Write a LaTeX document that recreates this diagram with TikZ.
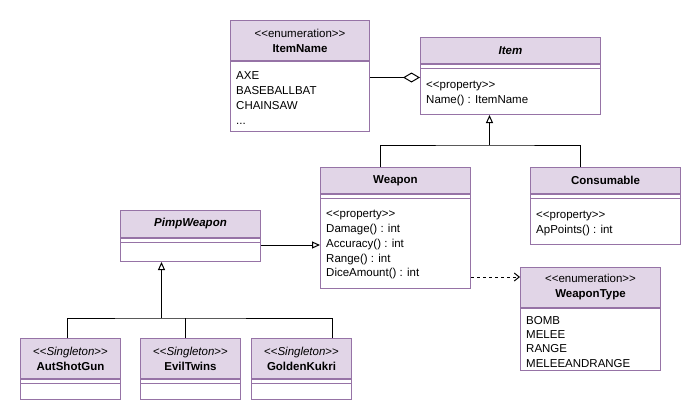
\documentclass[tikz,border=0pt]{standalone}
\usepackage{fontspec}
\setmainfont{Liberation Sans}
\usetikzlibrary{arrows.meta,calc}
\definecolor{umlfill}{HTML}{E1D5E7}
\definecolor{umlline}{HTML}{9673A6}
\newcommand{\umlfont}{\fontsize{11.5}{15}\selectfont}
\begin{document}
\begin{tikzpicture}[x=1pt, y=-1pt,
  hdr/.style={draw=umlline, fill=umlfill, line width=1pt, anchor=north west, inner sep=0pt, align=center, font=\umlfont},
  cbody/.style={draw=umlline, fill=white, line width=1pt, anchor=north, inner sep=0pt},
  sep/.style={draw=umlline, line width=1pt},
  mbr/.style={anchor=north west, inner sep=0pt, align=left, font=\umlfont},
  conn/.style={line width=1pt},
  gen/.style={conn, -{Triangle[open, length=8pt, width=7pt]}},
  aggr/.style={conn, -{Diamond[open, length=17pt, width=10pt]}},
  dep/.style={conn, dash pattern=on 3pt off 3pt, -{Straight Barb[length=5pt, width=8pt]}}]
  \useasboundingbox (0,0) rectangle (698,402);
  % ItemName
  \node[hdr, minimum width=139pt, minimum height=40pt] (itemname) at (230,20) {<{}<enumeration>{}>\\\textbf{ItemName}};
  \node[cbody, minimum width=139pt, minimum height=70pt] (itemname-b) at (itemname.south) {};
  \node[mbr] (itemname-t) at ($(itemname-b.north west)+(6,7.5)$) {\strut AXE\\BASEBALLBAT\\CHAINSAW\\...};
  % Item
  \node[hdr, minimum width=180pt, minimum height=26pt] (item) at (420,37) {\textbf{\textit{Item}}};
  \node[cbody, minimum width=180pt, minimum height=50pt] (item-b) at (item.south) {};
  \draw[sep] ($(item.south west)+(0,4)$) -- ($(item.south east)+(0,4)$);
  \node[mbr] (item-t) at ($(item-b.north west)+(6,13.5)$) {\strut<{}<property>{}>\\Name() : ItemName};
  % Weapon
  \node[hdr, minimum width=150pt, minimum height=26pt] (weapon) at (320,167) {\textbf{Weapon}};
  \node[cbody, minimum width=150pt, minimum height=94pt] (weapon-b) at (weapon.south) {};
  \draw[sep] ($(weapon.south west)+(0,4)$) -- ($(weapon.south east)+(0,4)$);
  \node[mbr, font=\fontsize{11.5}{14.7}\selectfont] (weapon-t) at ($(weapon-b.north west)+(6,13.5)$) {\strut<{}<property>{}>\\Damage() : int\\Accuracy() : int\\Range() : int\\DiceAmount() : int};
  % Consumable
  \node[hdr, minimum width=150pt, minimum height=26pt] (consumable) at (530,167) {\textbf{Consumable}};
  \node[cbody, minimum width=150pt, minimum height=50pt] (consumable-b) at (consumable.south) {};
  \draw[sep] ($(consumable.south west)+(0,4)$) -- ($(consumable.south east)+(0,4)$);
  \node[mbr] (consumable-t) at ($(consumable-b.north west)+(6,13.5)$) {\strut<{}<property>{}>\\ApPoints() : int};
  % WeaponType
  \node[hdr, minimum width=140pt, minimum height=40pt] (weapontype) at (520,267) {<{}<enumeration>{}>\\\textbf{WeaponType}};
  \node[cbody, minimum width=140pt, minimum height=62pt] (weapontype-b) at (weapontype.south) {};
  \node[mbr, font=\fontsize{11.5}{14.3}\selectfont] (weapontype-t) at ($(weapontype-b.north west)+(6,6)$) {\strut BOMB\\MELEE\\RANGE\\MELEEANDRANGE};
  % PimpWeapon
  \node[hdr, minimum width=140pt, minimum height=27pt] (pimp) at (120,210) {\textbf{\textit{PimpWeapon}}};
  \node[cbody, minimum width=140pt, minimum height=23pt] (pimp-b) at (pimp.south) {};
  \draw[sep] ($(pimp.south west)+(0,4)$) -- ($(pimp.south east)+(0,4)$);
  % singletons
  \node[hdr, minimum width=100pt, minimum height=40pt] (autshotgun) at (20,338) {<{}<\textit{Singleton}>{}>\\\textbf{AutShotGun}};
  \node[cbody, minimum width=100pt, minimum height=20pt] (autshotgun-b) at (autshotgun.south) {};
  \draw[sep] ($(autshotgun.south west)+(0,4)$) -- ($(autshotgun.south east)+(0,4)$);
  \node[hdr, minimum width=100pt, minimum height=40pt] (eviltwins) at (140,338) {<{}<\textit{Singleton}>{}>\\\textbf{EvilTwins}};
  \node[cbody, minimum width=100pt, minimum height=20pt] (eviltwins-b) at (eviltwins.south) {};
  \draw[sep] ($(eviltwins.south west)+(0,4)$) -- ($(eviltwins.south east)+(0,4)$);
  \node[hdr, minimum width=100pt, minimum height=40pt] (goldenkukri) at (251,338) {<{}<\textit{Singleton}>{}>\\\textbf{GoldenKukri}};
  \node[cbody, minimum width=100pt, minimum height=20pt] (goldenkukri-b) at (goldenkukri.south) {};
  \draw[sep] ($(goldenkukri.south west)+(0,4)$) -- ($(goldenkukri.south east)+(0,4)$);
  % connectors
  \coordinate (aggend) at ($(item-b.west)+(0,-12)$);
  \draw[aggr] (itemname-b.east |- aggend) -- (aggend);
  \coordinate (itemfork) at (489.5,145);
  \coordinate (wjoin) at ($(weapon.north west)+(60,0)$);
  \coordinate (cjoin) at ($(consumable.north west)+(50,0)$);
  \draw[conn] (wjoin) |- (itemfork) -| (cjoin);
  \draw[gen] (itemfork) -- (itemfork |- item-b.south);
  \coordinate (pimpout) at ($(pimp-b.east)+(0,-5)$);
  \draw[gen] (pimpout) -- (pimpout -| weapon-b.west);
  \coordinate (depend) at ($(weapontype.north west)+(0,10)$);
  \draw[dep] (depend -| weapon-b.east) -- (depend);
  \coordinate (pimpfork) at (161.5,318);
  \coordinate (ajoin) at ($(autshotgun.north west)+(47,0)$);
  \coordinate (ejoin) at ($(eviltwins.north west)+(45,0)$);
  \coordinate (gjoin) at ($(goldenkukri.north west)+(81,0)$);
  \draw[conn] (ajoin) |- (pimpfork) -| (gjoin);
  \draw[conn] (ejoin) -- (ejoin |- pimpfork);
  \draw[gen] (pimpfork) -- (pimpfork |- pimp-b.south);
\end{tikzpicture}
\end{document}
